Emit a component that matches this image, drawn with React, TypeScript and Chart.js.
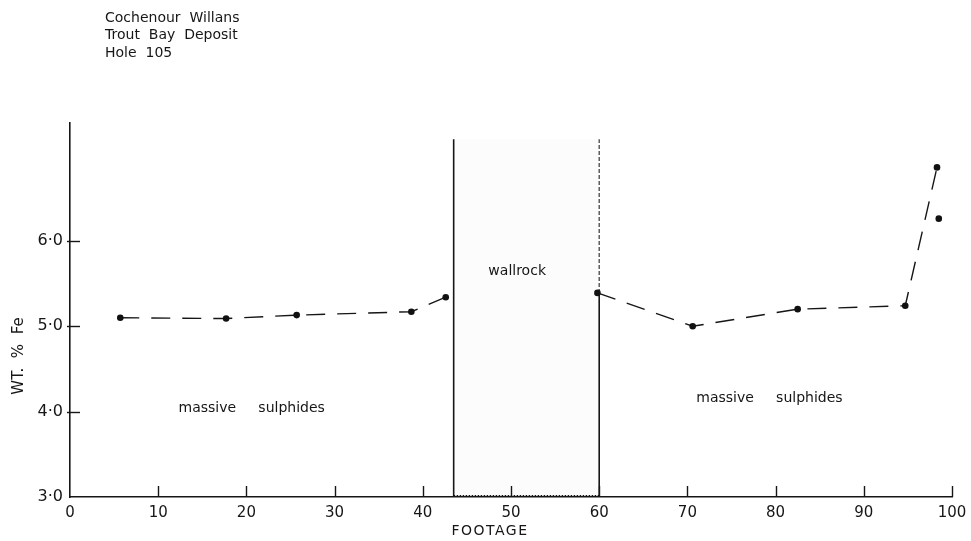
import React, { useEffect, useRef } from "react";
import { Chart, registerables } from "chart.js";

Chart.register(...registerables);

// ---- data ----
const titleLines = ["Cochenour  Willans", "Trout  Bay  Deposit", "Hole  105"];
const xTickValues = [0, 10, 20, 30, 40, 50, 60, 70, 80, 90, 100];
const yTickValues = [3, 4, 5, 6];
const yTickLabels = ["3·0", "4·0", "5·0", "6·0"];

const leftFootage = [5.7, 17.7, 25.7, 38.7, 42.6];
const leftFe = [5.1, 5.09, 5.13, 5.17, 5.34];
const rightFootage = [59.8, 70.6, 82.5, 94.7, 98.3];
const rightFe = [5.39, 5.0, 5.2, 5.24, 6.86];
const extraFootage = [98.5];
const extraFe = [6.26];

const wallrockStart = 43.5;
const wallrockEnd = 60;
const wallrockTop = 7.19;
const wallrockBreak = 5.39;

const annotations = [
  { text: "wallrock", x: 50.7, y: 5.64 },
  { text: "massive     sulphides", x: 20.6, y: 4.04 },
  { text: "massive     sulphides", x: 79.3, y: 4.15 },
];

const INK = "#161616";
const FONT = "'DejaVu Sans', sans-serif";

const pts = (xs: number[], ys: number[]) => xs.map((x, i) => ({ x, y: ys[i] }));

const decor = {
  id: "decor",
  beforeDatasetsDraw(chart: any) {
    const { ctx, scales } = chart;
    const x = scales.x, y = scales.y;
    const x0 = x.getPixelForValue(wallrockStart);
    const x1 = x.getPixelForValue(wallrockEnd);
    const yt = y.getPixelForValue(wallrockTop);
    const yb = y.getPixelForValue(3);
    ctx.save();
    ctx.fillStyle = "rgba(0,0,0,0.012)";
    ctx.fillRect(x0, yt, x1 - x0, yb - yt);
    ctx.restore();
  },
  afterDraw(chart: any) {
    const { ctx, scales } = chart;
    const x = scales.x, y = scales.y;
    const bottom = y.getPixelForValue(3);
    const left = x.getPixelForValue(0);
    ctx.save();
    ctx.strokeStyle = INK;
    ctx.lineWidth = 1.4;
    // inward x ticks
    xTickValues.forEach((v) => {
      if (v === 0) return;
      const px = Math.round(x.getPixelForValue(v)) + 0.5;
      ctx.beginPath();
      ctx.moveTo(px, bottom);
      ctx.lineTo(px, bottom - 11);
      ctx.stroke();
    });
    // y ticks crossing axis
    yTickValues.forEach((v) => {
      if (v === 3) return;
      const py = Math.round(y.getPixelForValue(v)) + 0.5;
      ctx.beginPath();
      ctx.moveTo(left - 3, py);
      ctx.lineTo(left + 10, py);
      ctx.stroke();
    });
    // dotted bottom under wallrock
    ctx.setLineDash([1.5, 1.5]);
    ctx.lineWidth = 1.2;
    ctx.beginPath();
    ctx.moveTo(x.getPixelForValue(wallrockStart), bottom - 1.5);
    ctx.lineTo(x.getPixelForValue(wallrockEnd), bottom - 1.5);
    ctx.stroke();
    ctx.setLineDash([]);

    ctx.fillStyle = INK;
    ctx.textBaseline = "middle";
    // title
    ctx.textAlign = "left";
    ctx.font = `14px ${FONT}`;
    titleLines.forEach((t, i) => ctx.fillText(t, 105, 18 + i * 17.5));
    // annotations
    ctx.textAlign = "center";
    ctx.font = `14px ${FONT}`;
    annotations.forEach((a) => {
      ctx.fillText(a.text, x.getPixelForValue(a.x), y.getPixelForValue(a.y));
    });
    // x axis title
    ctx.font = `14px ${FONT}`;
    (ctx as any).letterSpacing = "1.5px";
    ctx.fillText("FOOTAGE", 490, 531);
    // y axis title
    (ctx as any).letterSpacing = "0px";
    ctx.translate(19, 356);
    ctx.rotate(-Math.PI / 2);
    ctx.font = `15px ${FONT}`;
    ctx.fillText("WT.  %  Fe", 0, 0);
    ctx.restore();
  },
};

export default function App() {
  const ref = useRef<HTMLCanvasElement | null>(null);

  useEffect(() => {
    if (!ref.current) return;
    const lineStyle = {
      showLine: true,
      borderColor: INK,
      borderWidth: 1.4,
      borderDash: [19, 12],
      pointRadius: 3.3,
      pointBackgroundColor: "#111",
      pointBorderWidth: 0,
      fill: false,
    };
    const boundary = {
      showLine: true,
      borderColor: INK,
      borderWidth: 1.6,
      pointRadius: 0,
      fill: false,
    };
    const chart = new Chart(ref.current, {
      type: "scatter",
      data: {
        datasets: [
          { label: "left", data: pts(leftFootage, leftFe), ...lineStyle },
          { label: "right", data: pts(rightFootage, rightFe), ...lineStyle },
          { label: "extra", data: pts(extraFootage, extraFe), ...lineStyle, showLine: false },
          {
            label: "wallrock start",
            data: [
              { x: wallrockStart, y: 3 },
              { x: wallrockStart, y: wallrockTop },
            ],
            ...boundary,
          },
          {
            label: "wallrock end low",
            data: [
              { x: wallrockEnd, y: 3 },
              { x: wallrockEnd, y: wallrockBreak },
            ],
            ...boundary,
          },
          {
            label: "wallrock end high",
            data: [
              { x: wallrockEnd, y: wallrockBreak },
              { x: wallrockEnd, y: wallrockTop },
            ],
            ...boundary,
            borderColor: "#444",
            borderWidth: 1.3,
            borderDash: [4, 2],
          },
        ],
      } as any,
      options: {
        animation: false,
        responsive: false,
        devicePixelRatio: 1,
        layout: { padding: { top: 123, right: 19, left: 0, bottom: 0 } },
        plugins: { legend: { display: false }, tooltip: { enabled: false }, title: { display: false } },
        scales: {
          x: {
            type: "linear",
            min: 0,
            max: 100,
            afterBuildTicks: (s: any) => {
              s.ticks = xTickValues.map((v) => ({ value: v }));
            },
            ticks: {
              autoSkip: false,
              maxRotation: 0,
              padding: 7,
              color: INK,
              font: { family: FONT, size: 15 },
            },
            grid: { display: false, drawTicks: false },
            border: { display: true, color: INK, width: 1.6 },
            afterFit: (s: any) => {
              s.height = 44;
              s.paddingLeft = 0;
              s.paddingRight = 0;
            },
          },
          y: {
            type: "linear",
            min: 3,
            max: 7.38,
            afterBuildTicks: (s: any) => {
              s.ticks = yTickValues.map((v) => ({ value: v }));
            },
            ticks: {
              padding: 7,
              color: INK,
              font: { family: FONT, size: 16 },
              callback: (v: any) => {
                const i = yTickValues.indexOf(Number(v));
                return i >= 0 ? yTickLabels[i] : "";
              },
            },
            grid: { display: false, drawTicks: false },
            border: { display: true, color: INK, width: 1.6 },
            afterFit: (s: any) => {
              s.width = 70;
              s.paddingTop = 0;
              s.paddingBottom = 0;
            },
          },
        },
      } as any,
      plugins: [decor],
    });
    return () => chart.destroy();
  }, []);

  return (
    <div style={{ position: "absolute", left: 0, top: 0, width: 971, height: 541, background: "#fff" }}>
      <canvas ref={ref} width={971} height={541} style={{ display: "block" }} />
    </div>
  );
}
